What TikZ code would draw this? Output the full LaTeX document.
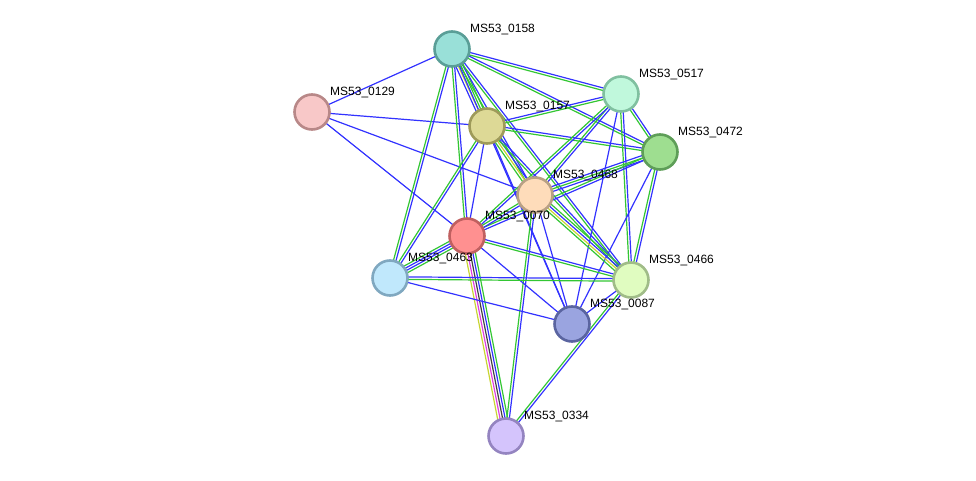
\documentclass[tikz,border=0pt]{standalone}
\usepackage{fontspec}
\setmainfont{Liberation Sans}
\usetikzlibrary{calc}
\definecolor{eblue}{HTML}{3232FF}
\definecolor{egreen}{HTML}{33C633}
\definecolor{eolive}{HTML}{C8D432}
\definecolor{emag}{HTML}{E040E0}
\definecolor{eblack}{HTML}{404040}
\definecolor{f0158}{HTML}{99E0D8}\definecolor{d0158}{HTML}{5A9E97}
\definecolor{f0517}{HTML}{C0F8DC}\definecolor{d0517}{HTML}{80C0A0}
\definecolor{f0129}{HTML}{F8C8C8}\definecolor{d0129}{HTML}{B88888}
\definecolor{f0157}{HTML}{DDD996}\definecolor{d0157}{HTML}{9E9A5A}
\definecolor{f0472}{HTML}{9EDE90}\definecolor{d0472}{HTML}{5E9E58}
\definecolor{f0468}{HTML}{FEDCBA}\definecolor{d0468}{HTML}{B8A084}
\definecolor{f0070}{HTML}{FF9090}\definecolor{d0070}{HTML}{C06060}
\definecolor{f0463}{HTML}{C0E8FC}\definecolor{d0463}{HTML}{80A8C0}
\definecolor{f0466}{HTML}{E0FCC0}\definecolor{d0466}{HTML}{A0BC88}
\definecolor{f0087}{HTML}{9AA4E0}\definecolor{d0087}{HTML}{5A64A0}
\definecolor{f0334}{HTML}{D4C4FC}\definecolor{d0334}{HTML}{9484C0}
\tikzset{
  prot/.style={circle, minimum size=35pt, inner sep=0pt, line width=2.6pt},
  plabel/.style={anchor=west, inner sep=0pt, font=\fontsize{12}{14}\selectfont},
  edgeline/.style={line width=1.2pt}
}
\newcommand\edgeset[3]{%
  \foreach \c [count=\i] in {#3} {\xdef\nn{\i}}%
  \foreach \c [count=\i] in {#3} {%
    \pgfmathsetmacro\off{(\i-(\nn+1)/2)*2.5}%
    \draw[edgeline, color=\c] ($(#1)!\off pt!90:(#2)$) -- ($(#2)!\off pt!-90:(#1)$);
  }%
}
\begin{document}
\begin{tikzpicture}[x=1pt, y=-1pt]
\useasboundingbox (0,0) rectangle (976,481);
% node coordinates
\coordinate (n0158) at (452,49);
\coordinate (n0517) at (621,94);
\coordinate (n0129) at (312,112);
\coordinate (n0157) at (487,126);
\coordinate (n0472) at (660,152);
\coordinate (n0468) at (535,195);
\coordinate (n0070) at (467,236);
\coordinate (n0463) at (390,278);
\coordinate (n0466) at (631,280);
\coordinate (n0087) at (572,324);
\coordinate (n0334) at (506,436);
% edges
\edgeset{n0129}{n0158}{eblue}
\edgeset{n0129}{n0157}{eblue}
\edgeset{n0129}{n0468}{eblue}
\edgeset{n0129}{n0070}{eblue}
\edgeset{n0158}{n0517}{egreen,eblue}
\edgeset{n0158}{n0472}{egreen,eblue}
\edgeset{n0158}{n0157}{eblue,eolive,egreen,egreen}
\edgeset{n0158}{n0468}{egreen,eblue}
\edgeset{n0158}{n0466}{egreen,eblue}
\edgeset{n0158}{n0070}{egreen,eblue}
\edgeset{n0158}{n0463}{egreen,eblue}
\edgeset{n0158}{n0087}{eblue}
\edgeset{n0157}{n0517}{egreen,eblue}
\edgeset{n0157}{n0472}{egreen,eblue}
\edgeset{n0157}{n0468}{egreen,eolive,eblue}
\edgeset{n0157}{n0466}{egreen,eblue}
\edgeset{n0157}{n0070}{eblue}
\edgeset{n0157}{n0463}{egreen,eblue}
\edgeset{n0157}{n0087}{eblue}
\edgeset{n0517}{n0472}{egreen,eblue}
\edgeset{n0517}{n0468}{egreen,eblue}
\edgeset{n0517}{n0070}{egreen,eblue}
\edgeset{n0517}{n0466}{egreen,eblue}
\edgeset{n0517}{n0087}{eblue}
\edgeset{n0472}{n0468}{eblue,egreen,eblue}
\edgeset{n0472}{n0070}{egreen,eblue}
\edgeset{n0472}{n0466}{egreen,eblue}
\edgeset{n0472}{n0087}{eblue}
\edgeset{n0468}{n0070}{egreen,eblue}
\edgeset{n0468}{n0466}{egreen,eolive,eblue,egreen}
\edgeset{n0468}{n0087}{eblue}
\edgeset{n0468}{n0334}{egreen,eblue}
\edgeset{n0070}{n0463}{egreen,eblue,eblue,egreen}
\edgeset{n0070}{n0466}{egreen,eblue}
\edgeset{n0070}{n0087}{eblue}
\edgeset{n0070}{n0334}{eolive,emag,eblack,eblue,egreen}
\edgeset{n0463}{n0466}{egreen,eblue}
\edgeset{n0463}{n0087}{eblue}
\edgeset{n0466}{n0087}{eblue}
\edgeset{n0466}{n0334}{egreen,eblue}
% nodes and labels
\foreach \n in {0158,0517,0129,0157,0472,0468,0070,0463,0466,0087,0334} {
  \node[prot, fill=f\n, draw=d\n] (p\n) at (n\n) {};
  \node[plabel] (l\n) at ($(n\n)+(18,-19.5)$) {MS53\_\n};
}
\end{tikzpicture}
\end{document}
